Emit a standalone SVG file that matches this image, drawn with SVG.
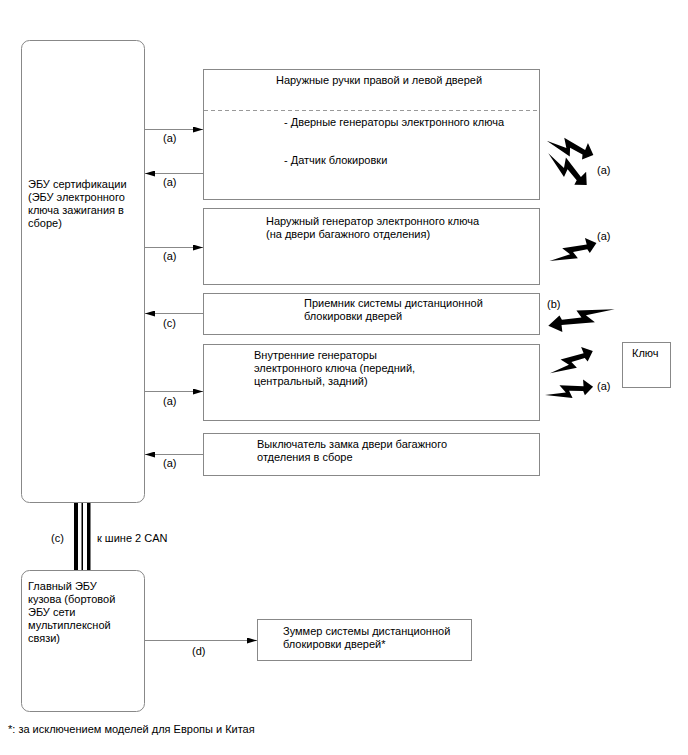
<svg xmlns="http://www.w3.org/2000/svg" width="688" height="755" viewBox="0 0 688 755">
<style>
text{font-family:"Liberation Sans",Arial,sans-serif;font-size:11px;fill:#000}
.box{fill:#fff;stroke:#888;stroke-width:1}
.ln{stroke:#888;stroke-width:1;fill:none}
.dash{stroke:#999;stroke-width:1;stroke-dasharray:4,3;fill:none}
.bolt{fill:#000}
</style>
<defs>
<marker id="ah" viewBox="0 0 10 6" refX="10" refY="3" markerWidth="10" markerHeight="6" markerUnits="userSpaceOnUse" orient="auto">
<path d="M0,0 L10,3 L0,6 Z" fill="#000"/>
</marker>
<path id="bolt" d="M0,0 L21.6,0.8 L16.4,-5 L40.7,-1.5 L41.4,-6.1 L50.3,0 L40.5,4.8 L39.5,1.75 L25.2,0 L27.5,5.2 Z"/>
</defs>

<g id="ecu-cert">
<rect class="box" x="21.5" y="40.5" width="123" height="462" rx="8"/>
<text x="28" y="188">ЭБУ сертификации</text>
<text x="28" y="201">(ЭБУ электронного</text>
<text x="28" y="214">ключа зажигания в</text>
<text x="28" y="227">сборе)</text>
</g>

<g id="door-handles">
<rect class="box" x="203.5" y="69.5" width="336" height="130"/>
<line class="dash" x1="204" y1="110.5" x2="539" y2="110.5"/>
<text x="276" y="84">Наружные ручки правой и левой дверей</text>
<text x="284" y="126">- Дверные генераторы электронного ключа</text>
<text x="284" y="164">- Датчик блокировки</text>
</g>

<g id="outer-osc">
<rect class="box" x="203.5" y="208.5" width="336" height="76"/>
<text x="266" y="225">Наружный генератор электронного ключа</text>
<text x="266" y="238">(на двери багажного отделения)</text>
</g>

<g id="receiver">
<rect class="box" x="203.5" y="293.5" width="336" height="41"/>
<text x="304" y="307">Приемник системы дистанционной</text>
<text x="304" y="320">блокировки дверей</text>
</g>

<g id="inner-osc">
<rect class="box" x="203.5" y="344.5" width="336" height="76"/>
<text x="254" y="359">Внутренние генераторы</text>
<text x="254" y="372">электронного ключа (передний,</text>
<text x="254" y="385">центральный, задний)</text>
</g>

<g id="trunk-switch">
<rect class="box" x="203.5" y="433.5" width="336" height="42"/>
<text x="257" y="448">Выключатель замка двери багажного</text>
<text x="257" y="461">отделения в сборе</text>
</g>

<g id="key">
<rect class="box" x="622.5" y="342.5" width="48" height="45"/>
<text x="632" y="357">Ключ</text>
</g>

<g id="body-ecu">
<rect class="box" x="21.5" y="570.5" width="123" height="141" rx="8"/>
<text x="28" y="590">Главный ЭБУ</text>
<text x="28" y="603">кузова (бортовой</text>
<text x="28" y="616">ЭБУ сети</text>
<text x="28" y="629">мультиплексной</text>
<text x="28" y="642">связи)</text>
</g>

<g id="buzzer">
<rect class="box" x="257.5" y="619.5" width="214" height="41"/>
<text x="283" y="635">Зуммер системы дистанционной</text>
<text x="283" y="648">блокировки дверей*</text>
</g>

<g id="connectors">
<line class="ln" x1="145" y1="129.5" x2="203" y2="129.5" marker-end="url(#ah)"/>
<line class="ln" x1="203" y1="173.5" x2="145" y2="173.5" marker-end="url(#ah)"/>
<line class="ln" x1="145" y1="247.5" x2="203" y2="247.5" marker-end="url(#ah)"/>
<line class="ln" x1="203" y1="313.5" x2="145" y2="313.5" marker-end="url(#ah)"/>
<line class="ln" x1="145" y1="391.5" x2="203" y2="391.5" marker-end="url(#ah)"/>
<line class="ln" x1="203" y1="454.5" x2="145" y2="454.5" marker-end="url(#ah)"/>
<line class="ln" x1="145" y1="640.5" x2="257" y2="640.5" marker-end="url(#ah)"/>
<rect x="74" y="503" width="4" height="67" fill="#000"/>
<rect x="81.5" y="503" width="1.5" height="67" fill="#000"/>
<rect x="87" y="503" width="3.5" height="67" fill="#000"/>
<text x="163" y="142">(a)</text>
<text x="163" y="186">(a)</text>
<text x="163" y="260">(a)</text>
<text x="163" y="327">(c)</text>
<text x="163" y="405">(a)</text>
<text x="163" y="467">(a)</text>
<text x="51" y="542">(c)</text>
<text x="97" y="542">к шине 2 CAN</text>
<text x="192" y="655">(d)</text>
</g>

<g id="radio">
<use href="#bolt" class="bolt" transform="translate(546.7,140.7) rotate(17) scale(0.97,1.6)"/>
<use href="#bolt" class="bolt" transform="translate(548.3,153.3) rotate(39.5) scale(0.99,1.6)"/>
<use href="#bolt" class="bolt" transform="translate(549.5,261) rotate(-21) scale(1,1.45)"/>
<use href="#bolt" class="bolt" transform="translate(614.7,309.3) rotate(166) scale(1.36,1.55)"/>
<use href="#bolt" class="bolt" transform="translate(550,373.3) rotate(-27.6) scale(0.96,1.45)"/>
<use href="#bolt" class="bolt" transform="translate(545,395) rotate(-9.8) scale(0.97,1.45)"/>
<text x="597" y="174">(a)</text>
<text x="597" y="240">(a)</text>
<text x="547" y="308">(b)</text>
<text x="597" y="390">(a)</text>
</g>

<text x="8" y="733">*: за исключением моделей для Европы и Китая</text>
</svg>
